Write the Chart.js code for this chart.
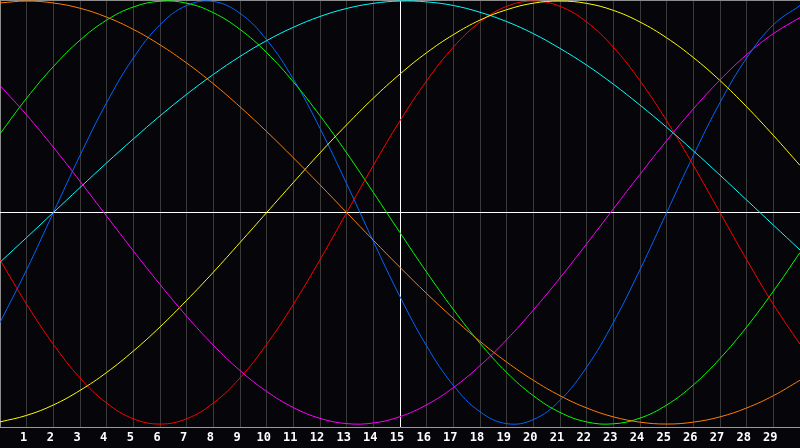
<!DOCTYPE html>
<html lang="en">
<head>
    <meta charset="UTF-8">
    <title>Waves</title>
    <style>
        body {
            margin: 0;
            padding: 0;
            background-color: #060509;
        }
        #wrap {
            width: 800px;
            height: 448px;
        }
    </style>
</head>
<body>
    <div id="wrap">
        <canvas id="myChart" width="800" height="448"></canvas>
    </div>

    <script src="https://cdn.jsdelivr.net/npm/chart.js"></script>
    <script>
        // x positions 0..30 (-1 .. 1)
        var xValues = [0, 1, 2, 3, 4, 5, 6, 7, 8, 9, 10, 11, 12, 13, 14, 15, 16, 17, 18, 19, 20, 21, 22, 23, 24, 25, 26, 27, 28, 29, 30];

        var orange = [0.991, 1, 0.991, 0.966, 0.924, 0.866, 0.793, 0.707, 0.609, 0.5, 0.383, 0.259, 0.131, 0, -0.131, -0.259,
            -0.383, -0.5, -0.609, -0.707, -0.793, -0.866, -0.924, -0.966, -0.991, -1, -0.991, -0.966, -0.924, -0.866, -0.793];

        var green = [0.372, 0.541, 0.69, 0.815, 0.91, 0.972, 0.999, 0.99, 0.945, 0.866, 0.756, 0.618, 0.458, 0.282, 0.095, -0.095,
            -0.282, -0.458, -0.618, -0.756, -0.866, -0.945, -0.99, -0.999, -0.972, -0.91, -0.815, -0.69, -0.541, -0.372, -0.189];

        var blue = [-0.52, -0.27, 0, 0.27, 0.52, 0.731, 0.888, 0.979, 0.998, 0.942, 0.817, 0.631, 0.398, 0.136, -0.136, -0.398,
            -0.631, -0.817, -0.942, -0.998, -0.979, -0.888, -0.731, -0.52, -0.27, 0, 0.27, 0.52, 0.731, 0.888, 0.979];

        var cyan = [-0.235, -0.118, 0, 0.118, 0.235, 0.348, 0.457, 0.559, 0.653, 0.738, 0.813, 0.876, 0.927, 0.965, 0.989, 1,
            0.996, 0.979, 0.947, 0.903, 0.846, 0.776, 0.697, 0.607, 0.508, 0.403, 0.292, 0.177, 0.059, -0.059, -0.177];

        var yellow = [-0.99, -0.959, -0.91, -0.841, -0.756, -0.655, -0.541, -0.415, -0.282, -0.142, 0, 0.142, 0.282, 0.415, 0.541, 0.655,
            0.756, 0.841, 0.91, 0.959, 0.99, 1, 0.989, 0.956, 0.901, 0.826, 0.733, 0.624, 0.5, 0.365, 0.223];

        var red = [-0.223, -0.434, -0.623, -0.782, -0.901, -0.975, -1, -0.975, -0.901, -0.782, -0.623, -0.434, -0.223, 0, 0.223, 0.434,
            0.623, 0.782, 0.901, 0.975, 1, 0.975, 0.901, 0.782, 0.623, 0.434, 0.223, 0, -0.223, -0.434, -0.623];

        var magenta = [0.601, 0.461, 0.309, 0.148, -0.017, -0.181, -0.34, -0.49, -0.627, -0.747, -0.846, -0.922, -0.973, -0.998, -0.995, -0.965,
            -0.909, -0.828, -0.724, -0.601, -0.461, -0.309, -0.148, 0.017, 0.181, 0.34, 0.49, 0.627, 0.747, 0.846, 0.922];

        var yMin = -1.014;
        var yMax = 1.005;

        function pts(arr) {
            return arr.map(function (v, i) { return { x: xValues[i], y: v }; });
        }

        function line(data, color) {
            return {
                data: pts(data),
                borderColor: color,
                borderWidth: 1,
                pointRadius: 0,
                pointHoverRadius: 0,
                tension: 0.4,
                fill: false
            };
        }

        var ctx = document.getElementById('myChart').getContext('2d');

        new Chart(ctx, {
            type: 'line',
            data: {
                datasets: [
                    line(orange, '#ff7f00'),
                    line(magenta, '#ff00ff'),
                    line(yellow, '#ffff00'),
                    line(cyan, '#00ffff'),
                    line(red, '#ff0000'),
                    line(green, '#00ff00'),
                    line(blue, '#0066ff')
                ]
            },
            options: {
                responsive: false,
                animation: false,
                layout: { padding: 0, autoPadding: false },
                plugins: {
                    legend: { display: false },
                    tooltip: { enabled: false }
                },
                scales: {
                    x: {
                        type: 'linear',
                        min: 0,
                        max: 30,
                        grid: {
                            drawTicks: false,
                            color: function (c) {
                                if (c.tick.value === 15) return '#ffffff';
                                if (c.tick.value === 0) return '#8c8c8c';
                                return '#3a3a3a';
                            }
                        },
                        border: { color: '#9a9a9a', width: 1 },
                        ticks: {
                            stepSize: 1,
                            padding: 0,
                            labelOffset: -3,
                            color: '#ffffff',
                            font: { family: 'DejaVu Sans Mono', size: 12, weight: 'bold', lineHeight: '21px' },
                            maxRotation: 0,
                            autoSkip: false,
                            callback: function (v) {
                                return (v === 0 || v === 30) ? '' : v;
                            }
                        }
                    },
                    y: {
                        min: yMin,
                        max: yMax,
                        afterBuildTicks: function (axis) {
                            axis.ticks = [{ value: yMin }, { value: 0 }, { value: yMax }];
                        },
                        grid: {
                            drawTicks: false,
                            color: function (c) {
                                if (c.tick.value === 0) return '#ffffff';
                                if (c.tick.value === yMax) return '#8c8c8c';
                                return 'rgba(0,0,0,0)';
                            }
                        },
                        border: { display: false },
                        ticks: { display: false }
                    }
                }
            }
        });
    </script>
</body>
</html>
